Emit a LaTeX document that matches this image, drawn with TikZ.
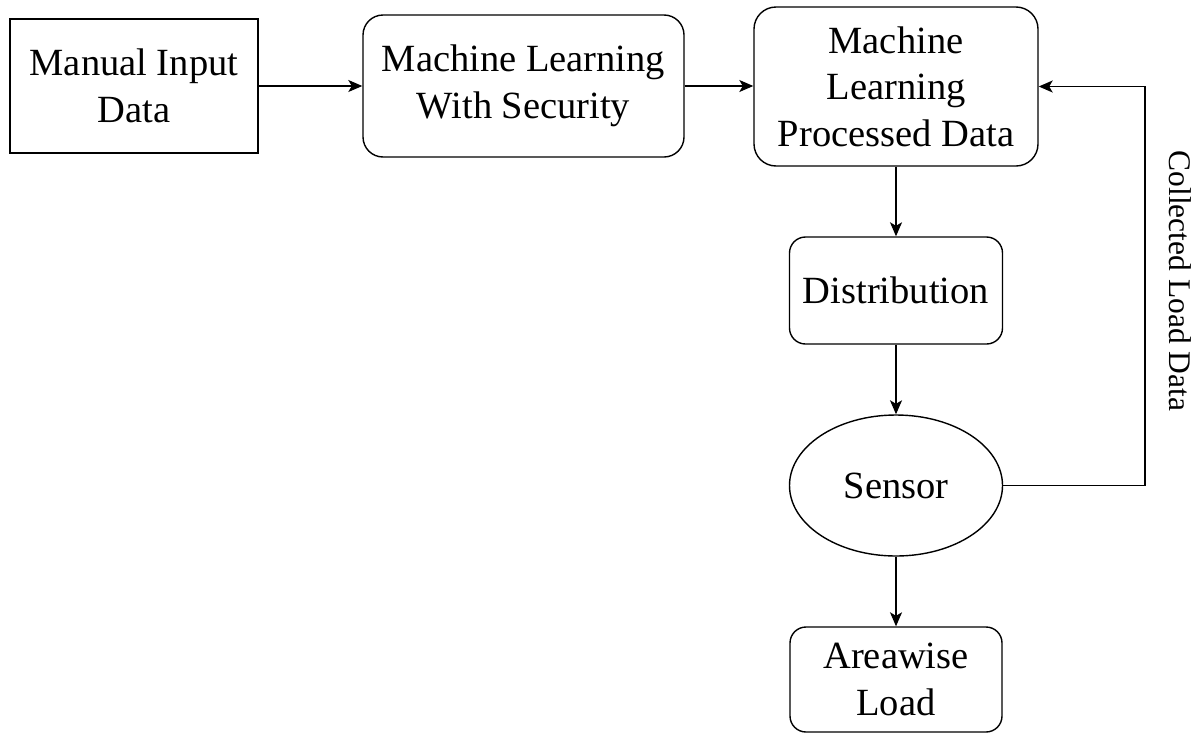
\documentclass[tikz,border=0pt]{standalone}
\usepackage{fontspec}
\setmainfont{Liberation Serif}
\usetikzlibrary{shapes.geometric,arrows.meta}
\tikzset{
  base/.style={draw=black, line width=1.4pt, inner sep=0pt, align=center,
    font=\fontsize{38.5}{46.5}\selectfont},
  sqbox/.style={base, rectangle},
  rbox/.style={base, rectangle, rounded corners=#1},
  oval/.style={base, ellipse},
  flow/.style={line width=1.4pt, -{Stealth[length=14pt,width=12pt,inset=3.5pt]}},
  sidelabel/.style={font=\fontsize{31.5}{36}\selectfont, rotate=-90}
}
\begin{document}
\begin{tikzpicture}[x=1pt,y=-1pt]
  \useasboundingbox (0,0) rectangle (1201,734);

  \node[sqbox, minimum width=248pt, minimum height=134pt] (manual) at (134,86) {Manual Input\\Data};
  \node[rbox=20pt, minimum width=321pt, minimum height=142pt] (mlsec) at (523.5,86) {Machine Learning\\With Security};
  \node[rbox=22pt, minimum width=284pt, minimum height=159pt] (mlproc) at (896,86.5) {Machine\\Learning\\Processed Data};
  \node[rbox=16pt, minimum width=213pt, minimum height=107pt] (dist) at (896,290.5) {Distribution};
  \node[oval, minimum width=213pt, minimum height=141pt] (sensor) at (896,485.5) {Sensor};
  \node[rbox=16pt, minimum width=212pt, minimum height=105pt] (area) at (896,679.5) {Areawise\\Load};

  \coordinate (loopb) at (1145,485.5);
  \coordinate (loopt) at (1145,86.5);

  \draw[flow] (manual.east) -- (mlsec.west);
  \draw[flow] (mlsec.east) -- (mlsec.east -| mlproc.west);
  \draw[flow] (mlproc.south) -- (dist.north);
  \draw[flow] (dist.south) -- (sensor.north);
  \draw[flow] (sensor.south) -- (area.north);
  \draw[flow] (sensor.east) -- (loopb) -- (loopt) -- (mlproc.east);

  \node[sidelabel] (collected) at (1180,281) {Collected Load Data};
\end{tikzpicture}
\end{document}
